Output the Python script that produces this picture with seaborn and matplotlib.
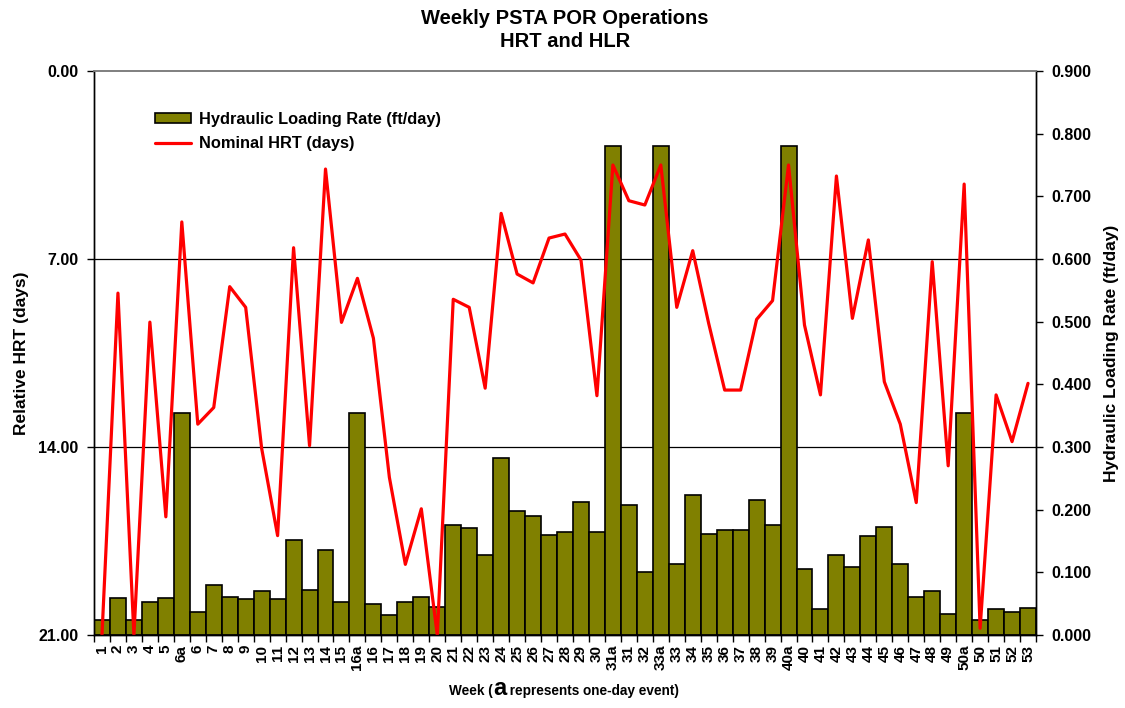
import matplotlib
matplotlib.use("Agg")
import matplotlib.pyplot as plt
import numpy as np
import pandas as pd
import seaborn as sns
from matplotlib.lines import Line2D
from matplotlib.patches import Patch
from matplotlib.ticker import FormatStrFormatter

weeks = ["1", "2", "3", "4", "5", "6a", "6", "7", "8", "9", "10", "11", "12", "13",
         "14", "15", "16a", "16", "17", "18", "19", "20", "21", "22", "23", "24", "25",
         "26", "27", "28", "29", "30", "31a", "31", "32", "33a", "33", "34", "35", "36",
         "37", "38", "39", "40a", "40", "41", "42", "43", "44", "45", "46", "47", "48",
         "49", "50a", "50", "51", "52", "53"]

# hydraulic loading rate, ft/day (right axis)
hlr = [0.024, 0.059, 0.024, 0.053, 0.059, 0.355, 0.037, 0.079, 0.061, 0.057, 0.071,
       0.057, 0.151, 0.072, 0.136, 0.053, 0.355, 0.049, 0.032, 0.053, 0.061, 0.045,
       0.175, 0.170, 0.127, 0.282, 0.198, 0.190, 0.160, 0.164, 0.212, 0.165, 0.781,
       0.207, 0.100, 0.781, 0.114, 0.223, 0.161, 0.167, 0.168, 0.216, 0.175, 0.781,
       0.105, 0.041, 0.128, 0.109, 0.158, 0.173, 0.114, 0.061, 0.070, 0.034, 0.355,
       0.024, 0.041, 0.036, 0.043]

# nominal HRT, days (left axis, inverted)
hrt = [21.0, 8.27, 21.0, 9.35, 16.6, 5.62, 13.15, 12.53, 8.03, 8.80, 14.05, 17.3,
       6.58, 13.95, 3.65, 9.36, 7.72, 9.95, 15.13, 18.37, 16.3, 21.0, 8.50, 8.80,
       11.81, 5.30, 7.56, 7.89, 6.22, 6.07, 7.04, 12.09, 3.50, 4.83, 4.99, 3.50,
       8.80, 6.69, 9.40, 11.88, 11.88, 9.25, 8.55, 3.50, 9.46, 12.06, 3.91, 9.21,
       6.29, 11.57, 13.15, 16.07, 7.10, 14.7, 4.21, 20.75, 12.06, 13.8, 11.63]

hrt_ticks = [0, 7, 14, 21]
hlr_ticks = [0.0, 0.1, 0.2, 0.3, 0.4, 0.5, 0.6, 0.7, 0.8, 0.9]

OLIVE = "#808000"
RED = "#FF0000"

sns.set_theme(style="ticks")
plt.rcParams.update({
    "font.weight":      "bold",
    "axes.labelweight": "bold",
    "text.color":       "black",
    "axes.labelcolor":  "black",
    "xtick.color":      "black",
    "ytick.color":      "black",
})
plt.rcParams["font.family"] = ["Liberation Sans", "DejaVu Sans"]

df = pd.DataFrame({"week": weeks, "hlr": hlr, "hrt": hrt, "pos": np.arange(len(weeks))})

fig = plt.figure(figsize=(11.25, 7.08), dpi=100)
ax = fig.add_axes([94 / 1125, 73 / 708, 942 / 1125, 564 / 708])

# bars on the primary axes
sns.barplot(data=df, x="week", y="hlr", order=weeks, ax=ax, color=OLIVE,
            saturation=1, width=1.0, edgecolor="black", linewidth=1.2)

# gridlines at the HRT ticks, drawn behind the bars
for d in hrt_ticks[1:-1]:
    ax.axhline(hlr_ticks[-1] * (1 - d / hrt_ticks[-1]), color="black", lw=0.9, zorder=0.5)

# HRT line on a twin axes
ax2 = ax.twinx()
sns.lineplot(data=df, x="pos", y="hrt", ax=ax2, color=RED, lw=2.3, sort=False)

# twinx resets the tick sides, so swap them afterwards
ax.set_ylim(hlr_ticks[0], hlr_ticks[-1])
ax.yaxis.tick_right()
ax.yaxis.set_label_position("right")
ax.set_yticks(hlr_ticks)
ax.yaxis.set_major_formatter(FormatStrFormatter("%.3f"))
ax.set_ylabel("Hydraulic Loading Rate (ft/day)", fontsize=12.5, labelpad=9)

ax2.set_ylim(hrt_ticks[-1], hrt_ticks[0])
ax2.yaxis.tick_left()
ax2.yaxis.set_label_position("left")
ax2.set_yticks(hrt_ticks)
ax2.yaxis.set_major_formatter(FormatStrFormatter("%.2f"))
ax2.set_ylabel("Relative HRT (days)", fontsize=12.5, labelpad=7)

n = len(weeks)
ax.set_xlim(-0.5, n - 0.5)
ax.set_xticks(np.arange(n))
ax.set_xticklabels(weeks, rotation=90, fontsize=11, fontweight="bold")
ax.set_xticks(np.arange(n + 1) - 0.5, minor=True)
ax.tick_params(axis="x", which="major", length=0, pad=7)
ax.tick_params(axis="x", which="minor", length=5, width=1, color="black")
ax.set_xlabel("")

for a in (ax, ax2):
    a.tick_params(axis="y", length=5, width=1, color="black", labelsize=11.5, pad=6)
    for lbl in a.get_yticklabels():
        lbl.set_fontweight("bold")
    a.spines["top"].set_color("#808080")
    for s in ("left", "right", "bottom"):
        a.spines[s].set_color("black")
        a.spines[s].set_linewidth(1.0)

ax.set_title("Weekly PSTA POR Operations\nHRT and HLR", fontsize=14.5, fontweight="bold",
             pad=17, linespacing=1.3)

# x axis label with the enlarged "a", placed piece by piece on one baseline
pieces = [("Week (", 9.8), ("a", 17), (" represents one-day event)", 9.8)]
fig.canvas.draw()
renderer = fig.canvas.get_renderer()
texts = [fig.text(0, 1 - 695 / 708, s, fontsize=sz, fontweight="bold", va="baseline")
         for s, sz in pieces]
widths = [t.get_window_extent(renderer).width for t in texts]
x0 = 564 - sum(widths) / 2
for t, w in zip(texts, widths):
    t.set_x(x0 / 1125)
    x0 += w

handles = [Patch(facecolor=OLIVE, edgecolor="black", linewidth=1.2),
           Line2D([], [], color=RED, lw=2.3)]
labels = ["Hydraulic Loading Rate (ft/day)", "Nominal HRT (days)"]
ax2.legend(handles, labels, loc="upper left", bbox_to_anchor=(155 / 1125, 1 - 112 / 708),
           bbox_transform=fig.transFigure, frameon=False,
           handlelength=2.2, handleheight=0.6, handletextpad=0.5, labelspacing=0.55,
           borderpad=0, borderaxespad=0, prop={"weight": "bold", "size": 11.8})

fig.savefig("out.png", dpi=100)
plt.close(fig)
